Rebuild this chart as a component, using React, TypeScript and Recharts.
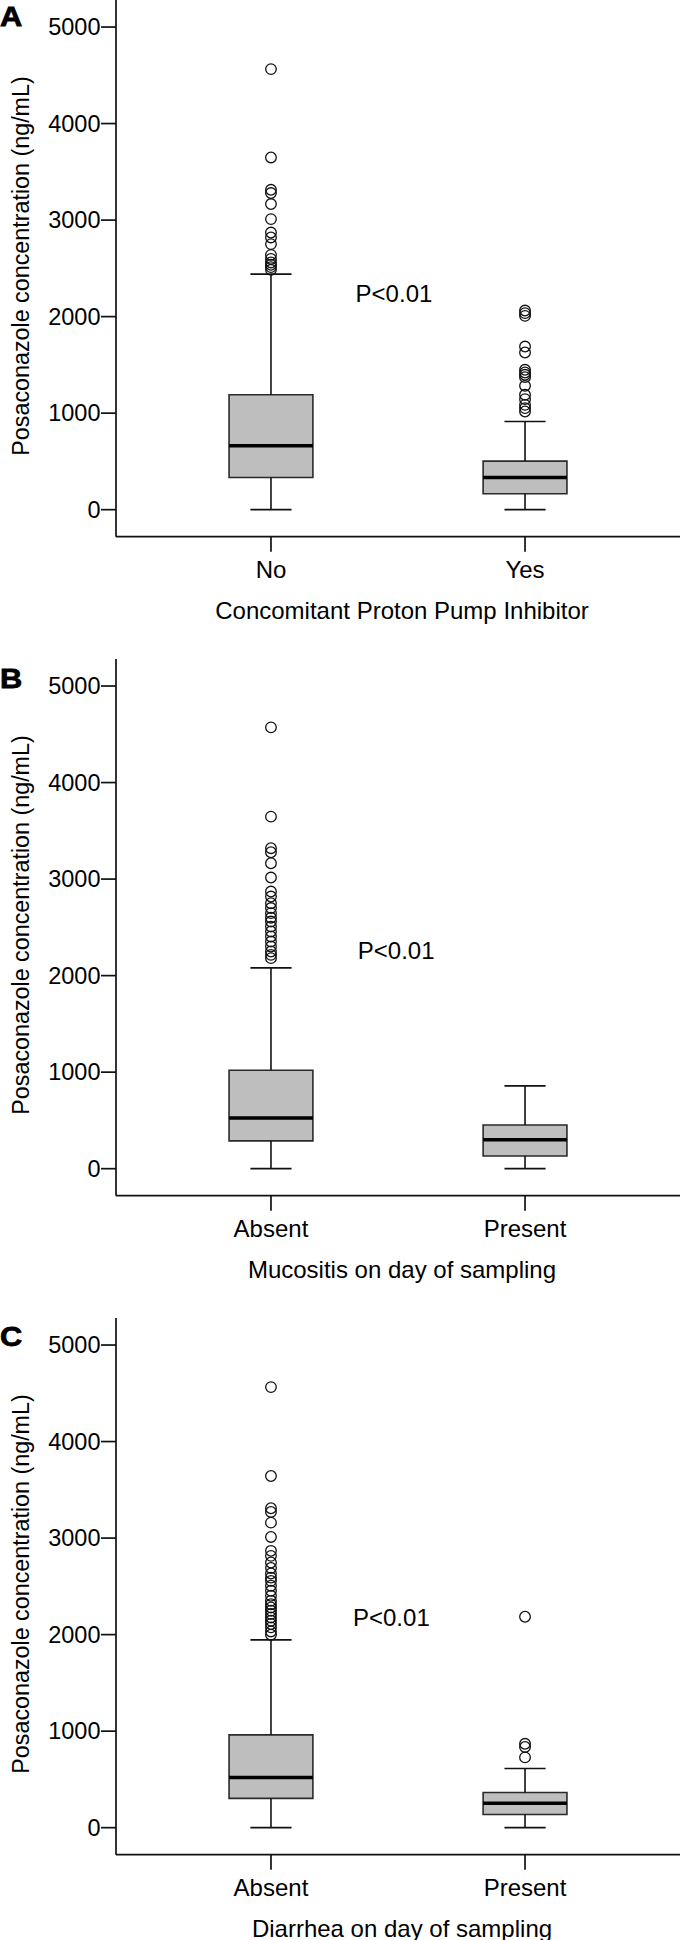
import React from 'react';
import {
  ComposedChart,
  XAxis,
  YAxis,
  Scatter,
  ReferenceArea,
  ReferenceLine
} from 'recharts';

const FONT = '"Liberation Sans", Arial, Helvetica, sans-serif';

// shared y ticks
const yTicks = [0, 1000, 2000, 3000, 4000, 5000];

// ---- Panel A: proton pump inhibitor ----
const catsA = ['No', 'Yes'];
const q1A = [334, 165];
const medA = [661, 334];
const q3A = [1190, 503];
const loA = [0, 0];
const hiA = [2440, 914];
const outNoA = [4564, 3649, 3314, 3280, 3166, 3010, 2871, 2820, 2751, 2640, 2598, 2561, 2537, 2513, 2485];
const outYesA = [2063, 2036, 2008, 1690, 1628, 1449, 1421, 1397, 1373, 1283, 1190, 1145, 1086, 1052, 1017];

// ---- Panel B: mucositis ----
const catsB = ['Absent', 'Present'];
const q1B = [288, 131];
const medB = [524, 300];
const q3B = [1019, 452];
const loB = [0, 0];
const hiB = [2080, 858];
const outAbsentB = [4572, 3647, 3320, 3278, 3164, 3016, 2871, 2819, 2750, 2700, 2647, 2600, 2560, 2508, 2457, 2405, 2353, 2301, 2250, 2215, 2181];
const outPresentB: number[] = [];

// ---- Panel C: diarrhea ----
const catsC = ['Absent', 'Present'];
const q1C = [304, 137];
const medC = [519, 252];
const q3C = [961, 364];
const loC = [0, 0];
const hiC = [1946, 613];
const outAbsentC = [4564, 3643, 3309, 3271, 3160, 3012, 2868, 2816, 2747, 2690, 2633, 2590, 2557, 2506, 2454, 2402, 2350, 2315, 2281, 2247, 2213, 2178, 2144, 2110, 2075, 2033, 1999];
const outPresentC = [2185, 869, 836, 728];

const PANEL_H = 659;
const BOX_HALF = 0.165;
const CAP_HALF = 0.081;
const INK = '#111';

type Panel = {
  top: number;
  letter: string;
  letterY: number;
  pX: number;
  pY: number;
  title: string;
  cats: string[];
  q1: number[];
  med: number[];
  q3: number[];
  lo: number[];
  hi: number[];
  outliers: number[][];
};

const panels: Panel[] = [
  { top: 0, letter: 'A', letterY: 26.3, pX: 355.6, pY: 302, title: 'Concomitant Proton Pump Inhibitor',
    cats: catsA, q1: q1A, med: medA, q3: q3A, lo: loA, hi: hiA, outliers: [outNoA, outYesA] },
  { top: 659, letter: 'B', letterY: 28.7, pX: 357.8, pY: 299.5, title: 'Mucositis on day of sampling',
    cats: catsB, q1: q1B, med: medB, q3: q3B, lo: loB, hi: hiB, outliers: [outAbsentB, outPresentB] },
  { top: 1318, letter: 'C', letterY: 28.3, pX: 353, pY: 307.8, title: 'Diarrhea on day of sampling',
    cats: catsC, q1: q1C, med: medC, q3: q3C, lo: loC, hi: hiC, outliers: [outAbsentC, outPresentC] }
];

const Ring = (props: any) => (
  <circle cx={props.cx} cy={props.cy} r={5.3} fill="none" stroke={INK} strokeWidth={1.3} />
);

const BoxPanel = ({ p }: { p: Panel }) => {
  const points = p.outliers.flatMap((vals, i) => vals.map((v) => ({ x: i + 1, y: v })));
  const line = { stroke: INK, strokeWidth: 1.7 };

  const marks = p.cats.flatMap((c, i) => {
    const x = i + 1;
    return [
      <ReferenceLine key={`wl-${c}`} segment={[{ x, y: p.lo[i] }, { x, y: p.q1[i] }]} stroke={INK} strokeWidth={1.6} />,
      <ReferenceLine key={`wh-${c}`} segment={[{ x, y: p.q3[i] }, { x, y: p.hi[i] }]} stroke={INK} strokeWidth={1.6} />,
      <ReferenceLine key={`cl-${c}`} segment={[{ x: x - CAP_HALF, y: p.lo[i] }, { x: x + CAP_HALF, y: p.lo[i] }]} stroke={INK} strokeWidth={1.6} />,
      <ReferenceLine key={`ch-${c}`} segment={[{ x: x - CAP_HALF, y: p.hi[i] }, { x: x + CAP_HALF, y: p.hi[i] }]} stroke={INK} strokeWidth={1.6} />,
      <ReferenceArea key={`box-${c}`} x1={x - BOX_HALF} x2={x + BOX_HALF} y1={p.q1[i]} y2={p.q3[i]}
        fill="#bebebe" fillOpacity={1} stroke="#2a2a2a" strokeWidth={1.6} />,
      <ReferenceLine key={`md-${c}`} segment={[{ x: x - BOX_HALF, y: p.med[i] }, { x: x + BOX_HALF, y: p.med[i] }]} stroke="#000" strokeWidth={3.5} />
    ];
  });

  return (
    <div style={{ position: 'absolute', left: 0, top: p.top, width: 680, height: PANEL_H }}>
      <ComposedChart width={680} height={PANEL_H} margin={{ top: 0, right: 0, bottom: 92.3, left: 0 }}>
        <XAxis
          type="number"
          dataKey="x"
          domain={[0.39, 2.61]}
          ticks={[1, 2]}
          allowDataOverflow
          height={30}
          tickFormatter={(v: number) => p.cats[v - 1]}
          tickSize={15}
          tickMargin={9}
          axisLine={line}
          tickLine={line}
          tick={{ fill: '#000', fontSize: 24, fontFamily: FONT }}
        />
        <YAxis
          type="number"
          dataKey="y"
          domain={[-280, 5280]}
          ticks={yTicks}
          allowDataOverflow
          width={116}
          tickSize={15}
          tickMargin={0.5}
          axisLine={line}
          tickLine={line}
          tick={{ fill: '#000', fontSize: 23.5, fontFamily: FONT }}
        />
        {marks}
        <Scatter data={points} isAnimationActive={false} shape={Ring} />
      </ComposedChart>
      <svg width={680} height={PANEL_H} style={{ position: 'absolute', left: 0, top: 0, pointerEvents: 'none' }}
        fontFamily={FONT}>
        <text transform={`translate(0,${p.letterY}) scale(1.12,1)`} fontSize={27.5} fontWeight="bold"
          stroke="#000" strokeWidth={0.8} fill="#000">{p.letter}</text>
        <text x={p.pX} y={p.pY} fontSize={24} fill="#000">P&lt;0.01</text>
        <text x={402} y={618.5} fontSize={24} textAnchor="middle" fill="#000">{p.title}</text>
        <text transform="translate(28.5,266) rotate(-90)" fontSize={23.3} textAnchor="middle" fill="#000">
          Posaconazole concentration (ng/mL)
        </text>
      </svg>
    </div>
  );
};

export default function App() {
  return (
    <div style={{ position: 'absolute', left: 0, top: 0, width: 680, height: 1940, overflow: 'hidden', background: '#fff' }}>
      {panels.map((p) => (
        <BoxPanel key={p.letter} p={p} />
      ))}
    </div>
  );
}
